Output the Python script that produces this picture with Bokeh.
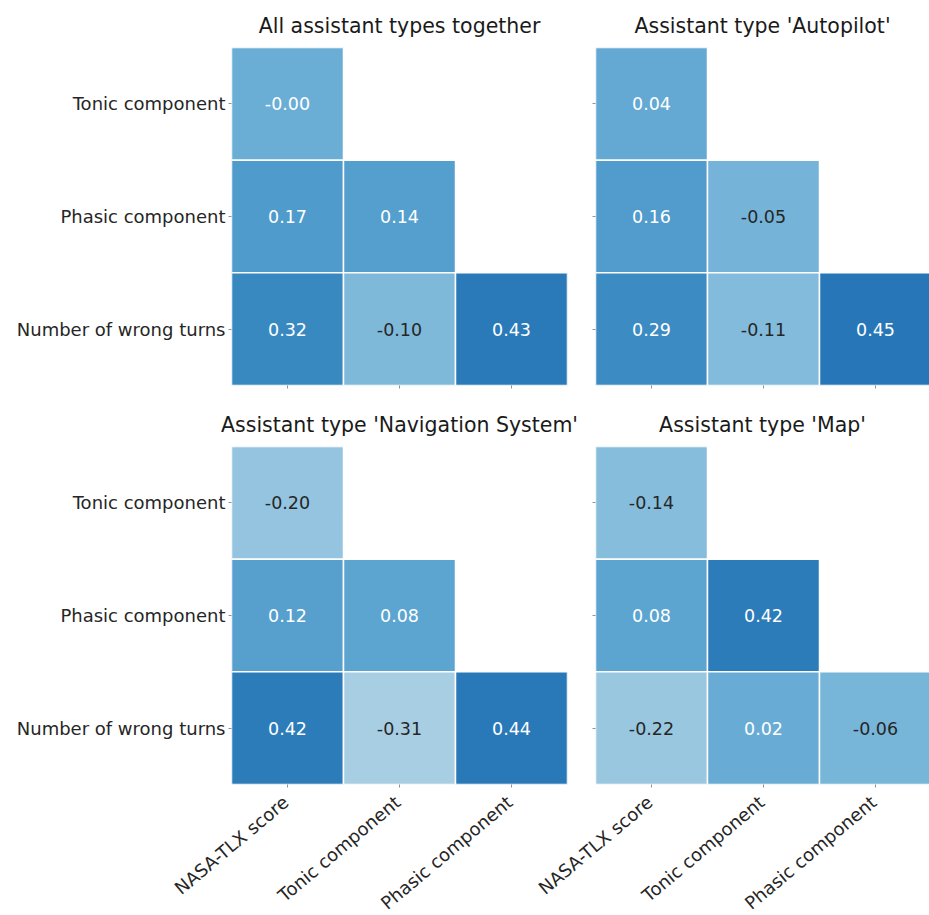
import math

from bokeh.core.properties import value
from bokeh.embed import file_html
from bokeh.layouts import column, row
from bokeh.models import ColumnDataSource, FixedTicker, LinearAxis, LinearColorMapper, Range1d
from bokeh.palettes import Blues256
from bokeh.plotting import figure
from bokeh.resources import INLINE

# Correlation matrices (lower triangle incl. diagonal), one per assistant type
col_labels = ["NASA-TLX score", "Tonic component", "Phasic component"]
row_labels = ["Tonic component", "Phasic component", "Number of wrong turns"]

panel_titles = [
    "All assistant types together",
    "Assistant type 'Autopilot'",
    "Assistant type 'Navigation System'",
    "Assistant type 'Map'",
]

# row-major lower triangle: (Tonic,NASA), (Phasic,NASA), (Phasic,Tonic),
# (Wrong,NASA), (Wrong,Tonic), (Wrong,Phasic)
corr_all = [-0.00, 0.17, 0.14, 0.32, -0.10, 0.43]
corr_autopilot = [0.04, 0.16, -0.05, 0.29, -0.11, 0.45]
corr_navigation = [-0.20, 0.12, 0.08, 0.42, -0.31, 0.44]
corr_map = [-0.14, 0.08, 0.42, -0.22, 0.02, -0.06]

panel_values = [corr_all, corr_autopilot, corr_navigation, corr_map]

FONT = "DejaVu Sans"
TEXT_DARK = "#262626"
TICK_COLOR = "#777777"
palette = list(reversed(Blues256))  # light -> dark
VMIN, VMAX = -1.0, 1.0
N_COLS = len(col_labels)
N_ROWS = len(row_labels)

# page layout (px)
PAGE_W = 929
LEFT_MARGIN = 231          # room for the row names
CELL = 112                 # size of one heatmap cell
GAP = 28                   # between the two panel columns
LEFT_FRAME_W = CELL * N_COLS
RIGHT_FRAME_X = LEFT_MARGIN + LEFT_FRAME_W + GAP
RIGHT_FRAME_W = PAGE_W - RIGHT_FRAME_X
FRAME_H = 338
TOP_ROW_H = 400
BOTTOM_ROW_H = 388
STRIP_H = 915 - TOP_ROW_H - BOTTOM_ROW_H
LABEL_DROP = 19            # rotated names end this far below the strip top
LABEL_NUDGE = 5
LABEL_ANGLE = math.radians(40)


def cmap_color(v):
    t = (v - VMIN) / (VMAX - VMIN)
    idx = min(max(int(t * 256), 0), 255)
    return palette[idx]


def rel_luminance(hex_color):
    rgb = [int(hex_color[i:i + 2], 16) / 255 for i in (1, 3, 5)]
    lin = [c / 12.92 if c <= 0.03928 else ((c + 0.055) / 1.055) ** 2.4 for c in rgb]
    return 0.2126 * lin[0] + 0.7152 * lin[1] + 0.0722 * lin[2]


def cell_source(vals):
    xs, ys, vs, labels, tcolors = [], [], [], [], []
    k = 0
    for r in range(N_ROWS):
        for c in range(r + 1):
            v = vals[k]
            k += 1
            xs.append(c)
            ys.append(N_ROWS - 1 - r)
            vs.append(v)
            labels.append(f"{v:.2f}")
            tcolors.append(TEXT_DARK if rel_luminance(cmap_color(v)) > 0.408 else "#ffffff")
    return ColumnDataSource(dict(x=xs, y=ys, v=vs, label=labels, tcolor=tcolors))


mapper = LinearColorMapper(palette=palette, low=VMIN, high=VMAX)


def style_axis(ax):
    ax.axis_line_color = None
    ax.major_tick_in = 0
    ax.major_tick_out = 3
    ax.minor_tick_in = 0
    ax.minor_tick_out = 3
    ax.major_tick_line_color = None
    ax.minor_tick_line_color = TICK_COLOR
    ax.minor_tick_line_width = 0.8
    ax.major_label_text_font = FONT
    ax.major_label_text_font_size = "18px"
    ax.major_label_text_color = TEXT_DARK
    ax.major_label_standoff = 3


def make_panel(idx):
    top_row = idx < 2
    left_col = idx % 2 == 0
    frame_w = LEFT_FRAME_W if left_col else RIGHT_FRAME_W
    p = figure(
        width=(LEFT_MARGIN + frame_w + GAP // 2) if left_col else (GAP // 2 + frame_w),
        height=TOP_ROW_H if top_row else BOTTOM_ROW_H,
        x_range=Range1d(-0.5, -0.5 + frame_w / CELL),
        y_range=Range1d(-0.5, N_ROWS - 0.5),
        x_axis_location=None, y_axis_location=None,
        output_backend="svg", toolbar_location=None, tools="",
        min_border_left=LEFT_MARGIN if left_col else GAP // 2,
        min_border_right=GAP // 2 if left_col else 0,
        min_border_top=47 if top_row else 46,
        min_border_bottom=(TOP_ROW_H - 47 - FRAME_H) if top_row else (BOTTOM_ROW_H - 46 - FRAME_H),
    )
    p.title.text = panel_titles[idx]
    p.title.align = "center"
    p.title.text_font = FONT
    p.title.text_font_size = "20.5px"
    p.title.text_font_style = "normal"
    p.title.text_color = "#1a1a1a"
    p.title.standoff = 20

    p.outline_line_color = None
    p.grid.grid_line_color = None
    p.background_fill_color = "white"
    p.border_fill_color = "white"

    # y axis: row names on the left column, tick marks only on the right
    row_pos = list(range(N_ROWS))
    if left_col:
        yax = LinearAxis(ticker=FixedTicker(ticks=row_pos, minor_ticks=row_pos))
        yax.major_label_overrides = {N_ROWS - 1 - r: row_labels[r] for r in range(N_ROWS)}
    else:
        yax = LinearAxis(ticker=FixedTicker(ticks=[], minor_ticks=row_pos))
    style_axis(yax)
    p.add_layout(yax, "left")

    # x axis: tick marks under every column
    col_pos = list(range(N_COLS))
    xax = LinearAxis(ticker=FixedTicker(ticks=[], minor_ticks=col_pos))
    style_axis(xax)
    xax.major_label_standoff = 0
    p.add_layout(xax, "below")

    src = cell_source(panel_values[idx])
    p.rect(x="x", y="y", width=1, height=1, source=src,
           fill_color={"field": "v", "transform": mapper},
           line_color="white", line_width=1.5)
    p.text(x="x", y="y", text="label", source=src,
           text_align="center", text_baseline="middle",
           text_font=value(FONT), text_font_size="17.5px",
           text_color="tcolor")
    return p


panels = [make_panel(i) for i in range(4)]

# strip under the bottom panels holding the rotated column names; its x scale
# continues the panels' cell scale across the full page width
strip = figure(
    width=PAGE_W, height=STRIP_H,
    x_range=Range1d(-0.5 - LEFT_MARGIN / CELL, -0.5 + (PAGE_W - LEFT_MARGIN) / CELL),
    y_range=Range1d(0, STRIP_H),
    x_axis_location=None, y_axis_location=None,
    output_backend="svg", toolbar_location=None, tools="",
    min_border=0,
)
strip.outline_line_color = None
strip.grid.grid_line_color = None
right_shift = (RIGHT_FRAME_X - LEFT_MARGIN) / CELL
names_src = ColumnDataSource(dict(
    x=list(range(N_COLS)) + [c + right_shift for c in range(N_COLS)],
    y=[STRIP_H - LABEL_DROP] * (2 * N_COLS),
    name=col_labels * 2,
))
strip.text(x="x", y="y", text="name", source=names_src,
           angle=LABEL_ANGLE, text_align="right", text_baseline="bottom",
           x_offset=LABEL_NUDGE,
           text_font=value(FONT), text_font_size="18px", text_color=TEXT_DARK)

page = column(row(panels[0], panels[1]), row(panels[2], panels[3]), strip)

open("out.html", "w").write(file_html(page, INLINE))
